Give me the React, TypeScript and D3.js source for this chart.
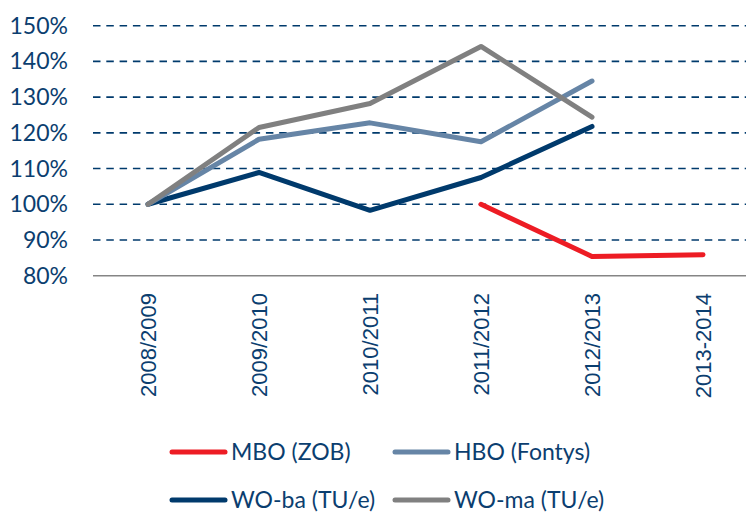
import * as d3 from 'd3';
import * as React from 'react';

const { useRef, useEffect } = React;

const width = 746;
const height = 513;

const categories = ['2008/2009', '2009/2010', '2010/2011', '2011/2012', '2012/2013', '2013-2014'];
const yTicks = [80, 90, 100, 110, 120, 130, 140, 150];

// null = no value for that year
const mbo = [null, null, null, 100, 85.4, 85.9];
const hbo = [100, 118.2, 122.8, 117.5, 134.5, null];
const woBa = [100, 108.9, 98.3, 107.5, 121.8, null];
const woMa = [100, 121.5, 128.2, 144.2, 124.4, null];

const series = [
  { name: 'MBO (ZOB)', values: mbo, color: '#ED1C24' },
  { name: 'HBO (Fontys)', values: hbo, color: '#6685A6' },
  { name: 'WO-ba (TU/e)', values: woBa, color: '#003A6C' },
  { name: 'WO-ma (TU/e)', values: woMa, color: '#808080' },
];

const textColor = '#0B3E6F';
const fontFamily = 'Lato, "Open Sans", sans-serif';

export default () => {
  const rootRef = useRef<SVGSVGElement>(null);

  useEffect(() => {
    const svg = d3.select(rootRef.current);
    svg.selectAll('*').remove();

    const x = d3.scalePoint<string>().domain(categories).range([148, 703]);
    const y = d3.scaleLinear().domain([80, 150]).range([275.7, 25.7]);

    // grid
    svg
      .append('g')
      .selectAll('line')
      .data(yTicks.filter(t => t > 80))
      .join('line')
      .attr('x1', 93)
      .attr('x2', width)
      .attr('y1', d => y(d))
      .attr('y2', d => y(d))
      .attr('stroke', '#003A6C')
      .attr('stroke-width', 1.6)
      .attr('stroke-dasharray', '7.5,5.8');

    // baseline
    svg
      .append('line')
      .attr('x1', 93)
      .attr('x2', width)
      .attr('y1', y(80))
      .attr('y2', y(80))
      .attr('stroke', '#858585')
      .attr('stroke-width', 1.6);

    // y labels
    svg
      .append('g')
      .selectAll('text')
      .data(yTicks)
      .join('text')
      .attr('x', 68)
      .attr('y', d => y(d))
      .attr('dy', '0.35em')
      .attr('text-anchor', 'end')
      .attr('font-family', fontFamily)
      .attr('font-size', 23)
      .attr('fill', textColor)
      .text(d => `${d}%`);

    // x labels
    svg
      .append('g')
      .selectAll('text')
      .data(categories)
      .join('text')
      .attr('transform', d => `translate(${x(d)},293) rotate(-90)`)
      .attr('text-anchor', 'end')
      .attr('dy', '0.35em')
      .attr('font-family', '"Liberation Sans", Arial, sans-serif')
      .attr('font-size', 22)
      .attr('fill', textColor)
      .text(d => d);

    const line = d3
      .line<number | null>()
      .defined(d => d !== null)
      .x((_, i) => x(categories[i]) as number)
      .y(d => y(d as number));

    const drawOrder = [series[0], series[2], series[1], series[3]];
    svg
      .append('g')
      .selectAll('path')
      .data(drawOrder)
      .join('path')
      .attr('d', d => line(d.values))
      .attr('fill', 'none')
      .attr('stroke', d => d.color)
      .attr('stroke-width', 5)
      .attr('stroke-linejoin', 'round')
      .attr('stroke-linecap', 'round');

    // legend
    const legendPos = [
      [172, 452],
      [395, 452],
      [172, 500],
      [395, 500],
    ];
    const lg = svg
      .append('g')
      .selectAll('g')
      .data(series)
      .join('g')
      .attr('transform', (_, i) => `translate(${legendPos[i][0]},${legendPos[i][1]})`);
    lg.append('line')
      .attr('x1', 0)
      .attr('x2', 53)
      .attr('stroke', d => d.color)
      .attr('stroke-width', 5)
      .attr('stroke-linecap', 'round');
    lg.append('text')
      .attr('x', 59)
      .attr('dy', '0.35em')
      .attr('font-family', fontFamily)
      .attr('font-size', 23)
      .attr('fill', textColor)
      .text(d => d.name);
  }, []);

  return (
    <svg
      ref={rootRef}
      width={width}
      height={height}
      style={{ position: 'absolute', left: 0, top: 0, background: '#fff' }}
    />
  );
};
